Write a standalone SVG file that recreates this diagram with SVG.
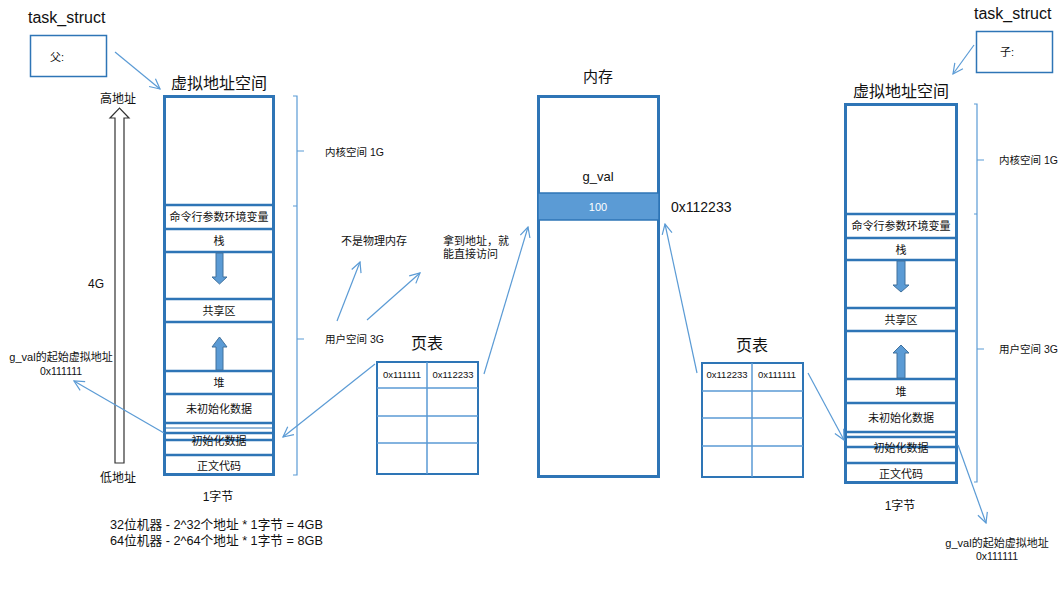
<svg xmlns="http://www.w3.org/2000/svg" width="1063" height="590" viewBox="0 0 1063 590">
<style>
.t{font-family:"Liberation Sans","Noto Sans CJK SC",sans-serif;fill:#111}
.c{text-anchor:middle}
.box{fill:#fff;stroke:#2e75b6;stroke-width:3}
.row{stroke:#2e75b6;stroke-width:2.5;fill:none}
.tb{fill:#fff;stroke:#2e75b6;stroke-width:2}
.tl{stroke:#5b9bd5;stroke-width:1.5}
.br{fill:none;stroke:#5b9bd5;stroke-width:1.2}
.con{fill:none;stroke:#5b9bd5;stroke-width:1.2;marker-end:url(#ah)}
.ba{fill:#5b9bd5;stroke:#41719c;stroke-width:1}
</style>
<defs>
<marker id="ah" viewBox="0 0 12 12" refX="11" refY="6" markerWidth="12" markerHeight="12" markerUnits="userSpaceOnUse" orient="auto">
<path d="M1,1 L11,6 L1,11" fill="none" stroke="#5b9bd5" stroke-width="1.2"/>
</marker>
</defs>

<g id="task-left">
<text class="t" x="28" y="23" font-size="16">task_struct</text>
<rect x="30.5" y="35.5" width="76" height="41" fill="#fff" stroke="#2e75b6" stroke-width="1.5"/>
<text class="t" x="50" y="61" font-size="11">父:</text>
</g>

<g id="addr-arrow">
<path d="M115,463 L115,118 L110,118 L119.5,108 L129,118 L124,118 L124,463 Z" fill="#fff" stroke="#333" stroke-width="1.2"/>
<text class="t c" x="118" y="103" font-size="12">高地址</text>
<text class="t c" x="118" y="482" font-size="12">低地址</text>
<text class="t" x="88" y="288" font-size="12">4G</text>
</g>

<g id="vas-left">
<text class="t c" x="219" y="89" font-size="16">虚拟地址空间</text>
<rect class="box" x="164.5" y="96.5" width="109" height="378"/>
<path class="row" d="M165,205H273M165,229H273M165,252H273M165,299H273M165,322H273M165,371H273M165,394H273M165,423H273M165,433H273M165,440H273M165,455H273"/>
<path d="M165,428H273" stroke="#2e75b6" stroke-width="1.2"/>
<text class="t c" x="219" y="221" font-size="11">命令行参数环境变量</text>
<text class="t c" x="219" y="245" font-size="11">栈</text>
<text class="t c" x="219" y="315" font-size="11">共享区</text>
<text class="t c" x="219" y="387" font-size="11">堆</text>
<text class="t c" x="219" y="413" font-size="11">未初始化数据</text>
<text class="t c" x="219" y="445" font-size="11">初始化数据</text>
<text class="t c" x="219" y="470" font-size="11">正文代码</text>
<path class="ba" d="M216,253H223V277H227L219.5,284L212,277H216Z"/>
<path class="ba" d="M216,370H223V347H227L219.5,337L212,347H216Z"/>
<text class="t c" x="218" y="501" font-size="12">1字节</text>
<text class="t" x="110" y="529" font-size="12.7">32位机器 - 2^32个地址 * 1字节 = 4GB</text>
<text class="t" x="110" y="545" font-size="12.7">64位机器 - 2^64个地址 * 1字节 = 8GB</text>
<text class="t c" x="61" y="361" font-size="11">g_val的起始虚拟地址</text>
<text class="t c" x="61" y="375" font-size="10.5">0x111111</text>
</g>

<g id="bracket-left">
<path class="br" d="M293,96H297V475H293M297,151H304M297,206H293M297,339H304"/>
<text class="t" x="325" y="156" font-size="10.5">内核空间 1G</text>
<text class="t" x="325" y="343" font-size="10.5">用户空间 3G</text>
</g>

<g id="notes">
<text class="t" x="341" y="245" font-size="11">不是物理内存</text>
<text class="t" x="443" y="245" font-size="11">拿到地址，就</text>
<text class="t" x="443" y="258" font-size="11">能直接访问</text>
</g>

<g id="pt-left">
<text class="t c" x="427" y="349" font-size="16">页表</text>
<rect class="tb" x="377" y="362" width="101" height="112"/>
<path class="tl" d="M377,388H478M377,416H478M377,443H478M427,362V474"/>
<text class="t c" x="402" y="378" font-size="9.5">0x111111</text>
<text class="t c" x="453" y="378" font-size="9.5">0x112233</text>
</g>

<g id="memory">
<text class="t c" x="598" y="82" font-size="15">内存</text>
<rect class="box" x="538.5" y="96.5" width="120" height="380"/>
<rect x="538" y="193" width="121" height="27" fill="#5b9bd5" stroke="#2e75b6" stroke-width="1.5"/>
<text class="t c" x="598" y="181" font-size="13">g_val</text>
<text class="t c" x="598" y="211" font-size="11" style="fill:#fff">100</text>
<text class="t" x="671" y="212" font-size="14">0x112233</text>
</g>

<g id="pt-right">
<text class="t c" x="752" y="351" font-size="16">页表</text>
<rect class="tb" x="702" y="363" width="101" height="114"/>
<path class="tl" d="M702,391H803M702,418H803M702,446H803M752,363V477"/>
<text class="t c" x="727" y="378" font-size="9.5">0x112233</text>
<text class="t c" x="777" y="378" font-size="9.5">0x111111</text>
</g>

<g id="task-right">
<text class="t" x="974" y="19" font-size="16">task_struct</text>
<rect x="976.5" y="31.5" width="76" height="41" fill="#fff" stroke="#2e75b6" stroke-width="1.5"/>
<text class="t" x="1000" y="56" font-size="11">子:</text>
</g>

<g id="vas-right">
<text class="t c" x="901" y="97" font-size="16">虚拟地址空间</text>
<rect class="box" x="845.5" y="104.5" width="111" height="378"/>
<path class="row" d="M846,214H956M846,238H956M846,260H956M846,308H956M846,331H956M846,379H956M846,403H956M846,432H956M846,437H956M846,447H956M846,463H956"/>
<text class="t c" x="901" y="230" font-size="11">命令行参数环境变量</text>
<text class="t c" x="901" y="254" font-size="11">栈</text>
<text class="t c" x="901" y="324" font-size="11">共享区</text>
<text class="t c" x="901" y="396" font-size="11">堆</text>
<text class="t c" x="901" y="422" font-size="11">未初始化数据</text>
<text class="t c" x="901" y="452" font-size="11">初始化数据</text>
<text class="t c" x="901" y="478" font-size="11">正文代码</text>
<path class="ba" d="M897,261H905V285H909L901,292L893,285H897Z"/>
<path class="ba" d="M897,378H905V353H909L901,345L893,353H897Z"/>
<text class="t c" x="900" y="510" font-size="12">1字节</text>
<text class="t c" x="997" y="547" font-size="11">g_val的起始虚拟地址</text>
<text class="t c" x="997" y="560" font-size="10.5">0x111111</text>
</g>

<g id="bracket-right">
<path class="br" d="M974,104H977V482H974M977,160H984M977,214H974M977,349H984"/>
<text class="t" x="999" y="164" font-size="10.5">内核空间 1G</text>
<text class="t" x="999" y="353" font-size="10.5">用户空间 3G</text>
</g>

<g id="connectors">
<path class="con" d="M115,52L160,89"/>
<path class="con" d="M974,45L953,74"/>
<path class="con" d="M164,433L74,381"/>
<path class="con" d="M375,364L283,437"/>
<path class="con" d="M337,321L360,262"/>
<path class="con" d="M367,320L420,273"/>
<path class="con" d="M484,374L528,227"/>
<path class="con" d="M697,373L665,224"/>
<path class="con" d="M808,373L844,440"/>
<path class="con" d="M958,445L986,523"/>
</g>
</svg>
